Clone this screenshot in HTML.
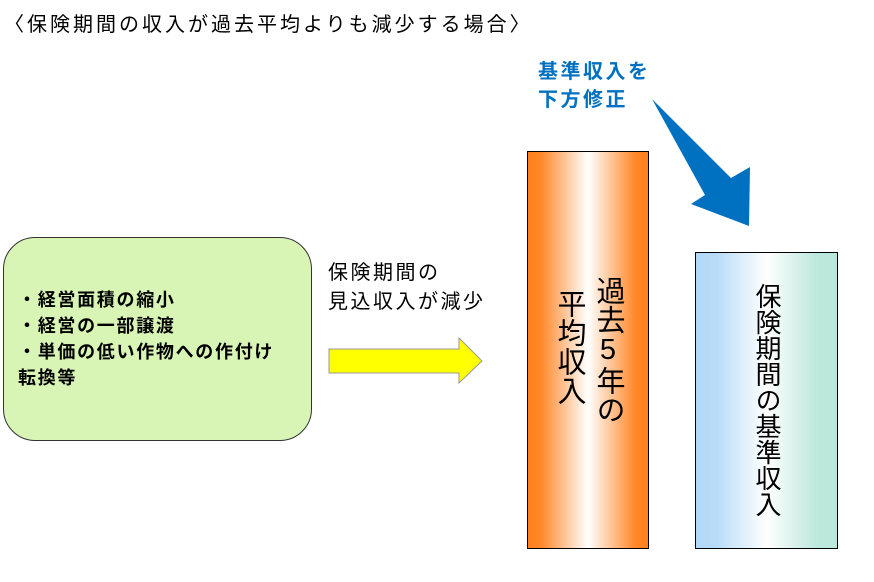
<!DOCTYPE html>
<html><head><meta charset="utf-8"><style>
body{margin:0;width:874px;height:582px;background:#fff;position:relative;overflow:hidden;font-family:"Liberation Sans","Noto Sans CJK JP",sans-serif;}
.a{position:absolute;white-space:nowrap;}
.v{position:absolute;writing-mode:vertical-rl;text-orientation:upright;color:#000;}
</style></head><body>
<div class="a" style="left:4px;top:8px;font-size:20px;letter-spacing:3px;">〈保険期間の収入が過去平均よりも減少する場合〉</div>
<div class="a" style="left:538px;top:58px;font-size:20px;font-weight:bold;color:#0070c0;line-height:28px;letter-spacing:2.5px;">基準収入を<br>下方修正</div>
<div class="a" style="left:3px;top:237px;width:307px;height:202px;border:1px solid #333;border-radius:32px;background:#d9f5b5;"></div>
<div class="a" style="left:18px;top:287px;font-size:18px;font-weight:bold;line-height:26px;letter-spacing:1.7px;">・経営面積の縮小<br>・経営の一部譲渡<br>・単価の低い作物への作付け<br>転換等</div>
<div class="a" style="left:328px;top:259px;font-size:20px;line-height:29px;letter-spacing:2.5px;">保険期間の<br>見込収入が減少</div>
<svg class="a" style="left:0;top:0" width="874" height="582">
<defs>
<linearGradient id="o" x1="0" x2="1"><stop offset="0" stop-color="#ff8020"/><stop offset="0.1" stop-color="#ff8525"/><stop offset="0.5" stop-color="#fff"/><stop offset="0.9" stop-color="#ff8525"/><stop offset="1" stop-color="#ff8020"/></linearGradient>
<linearGradient id="b" x1="0" x2="1"><stop offset="0" stop-color="#b0d8f8"/><stop offset="0.15" stop-color="#b8dcf8"/><stop offset="0.5" stop-color="#fff"/><stop offset="0.85" stop-color="#bde8dc"/><stop offset="1" stop-color="#b8e8dc"/></linearGradient>
</defs>
<polygon points="329,349 459,349 459,338 482,361 459,383 459,373 329,373" fill="#ffff00" stroke="#999" stroke-width="1"/>
<rect x="527.5" y="151.5" width="121" height="397" fill="url(#o)" stroke="#000"/>
<rect x="695.5" y="252.5" width="142" height="296" fill="url(#b)" stroke="#000"/>
<polygon points="652,99 731,178 750,167 749,226 691,204 705,195" fill="#0070c0"/>
</svg>
<div class="v" style="left:592px;top:276px;font-size:29px;line-height:32px;">過去5年の</div>
<div class="v" style="left:553px;top:289px;font-size:29px;line-height:32px;">平均収入</div>
<div class="v" style="left:752px;top:283px;font-size:26px;line-height:30px;">保険期間の基準収入</div>
</body></html>
